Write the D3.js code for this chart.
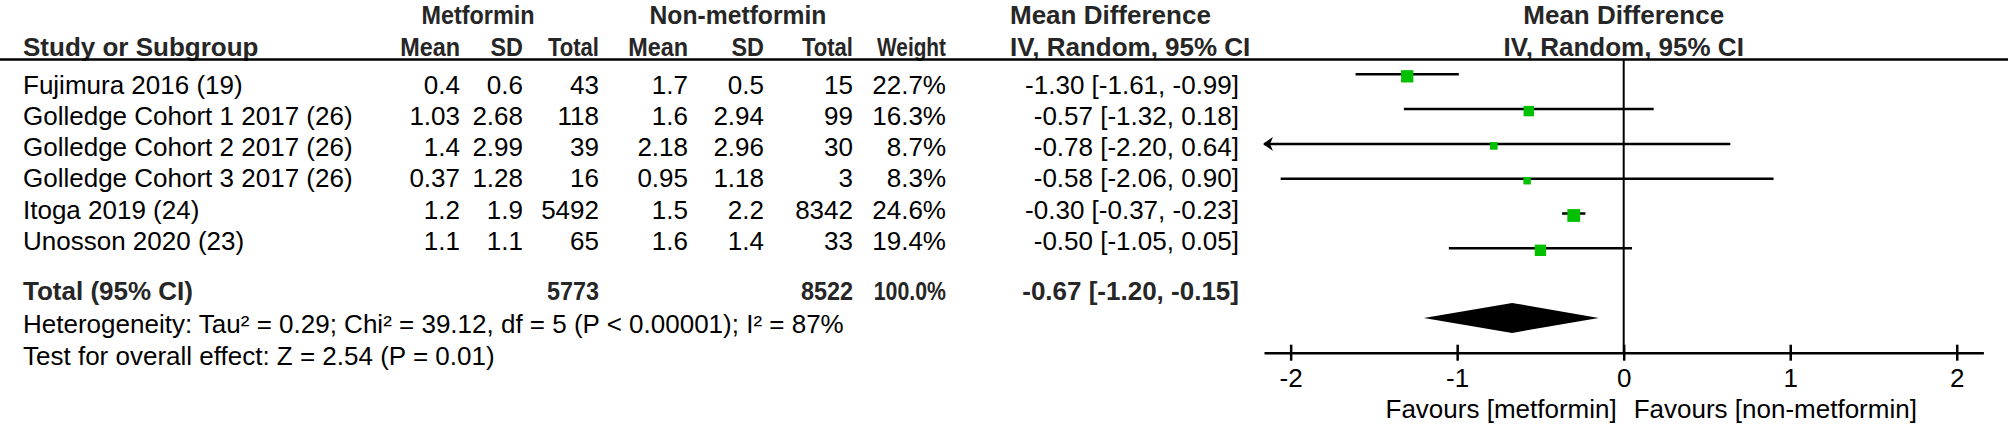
<!DOCTYPE html>
<html>
<head>
<meta charset="utf-8">
<script src="https://cdn.jsdelivr.net/npm/d3@7"></script>
<style>
  body { margin: 0; background: #fff; }
  text { font-family: "Liberation Sans", Arial, sans-serif; font-size: 26px; fill: #000; }
  .head { font-weight: bold; fill: #262626; }
  .bold { font-weight: bold; fill: #262626; }
</style>
</head>
<body>
<div id="forest"></div>
<script>
// FOREST PLOT: metformin vs non-metformin

// 1. Data
var studies = ["Fujimura 2016 (19)", "Golledge Cohort 1 2017 (26)", "Golledge Cohort 2 2017 (26)",
  "Golledge Cohort 3 2017 (26)", "Itoga 2019 (24)", "Unosson 2020 (23)"];
var metMean = ["0.4", "1.03", "1.4", "0.37", "1.2", "1.1"];
var metSD = ["0.6", "2.68", "2.99", "1.28", "1.9", "1.1"];
var metTotal = [43, 118, 39, 16, 5492, 65];
var nonMean = ["1.7", "1.6", "2.18", "0.95", "1.5", "1.6"];
var nonSD = ["0.5", "2.94", "2.96", "1.18", "2.2", "1.4"];
var nonTotal = [15, 99, 30, 3, 8342, 33];
var weights = [22.7, 16.3, 8.7, 8.3, 24.6, 19.4];
var md = [-1.30, -0.57, -0.78, -0.58, -0.30, -0.50];
var ciLow = [-1.61, -1.32, -2.20, -2.06, -0.37, -1.05];
var ciHigh = [-0.99, 0.18, 0.64, 0.90, -0.23, 0.05];

var totalMet = 5773;
var totalNon = 8522;
var totalWeight = "100.0%";
var overall = [-1.20, -0.67, -0.15]; // low, estimate, high

var xTicks = [-2, -1, 0, 1, 2];
var heterogeneity = "Heterogeneity: Tau\u00b2 = 0.29; Chi\u00b2 = 39.12, df = 5 (P < 0.00001); I\u00b2 = 87%";
var overallTest = "Test for overall effect: Z = 2.54 (P = 0.01)";

// 2. SVG
var svgWidth = 2008;
var svgHeight = 426;

var svg = d3.select("#forest").append("svg")
  .attr("width", svgWidth)
  .attr("height", svgHeight);

svg.append("rect").attr("width", svgWidth).attr("height", svgHeight).attr("fill", "#fff");

// plot rows (row index -> y) and table text rows
var yRow = d3.scaleLinear().domain([0, 1]).range([74.3, 109.1]);
var yText = d3.scaleLinear().domain([0, 1]).range([84.5, 115.7]);
var capHalf = 9.3; // half cap height, to put text centres on the row

// x scale of the plot
var x = d3.scaleLinear().domain([-2.16, 2.16]).range([1264, 1983.4]);

// box size scale
var boxSize = d3.scaleSqrt().domain([0, 24.6]).range([0, 12.8]);

function fmt(v) { return v.toFixed(2); }
function ciText(m, lo, hi) { return fmt(m) + " [" + fmt(lo) + ", " + fmt(hi) + "]"; }

// column right edges
var cols = { mean1: 460, sd1: 523, tot1: 599, mean2: 688, sd2: 764, tot2: 853, weight: 946, ci: 1239 };
var studyX = 23;

// 3. Headers (the bold column labels are a little narrower in the original)
var titleY = 24;
var headY = 56;
var heads = [
  ["Metformin", 478, titleY, "middle", 0.9],
  ["Non-metformin", 738, titleY, "middle", 0.95],
  ["Mean Difference", 1010, titleY, "start", 1],
  ["Mean Difference", x(0), titleY, "middle", 1],
  ["Study or Subgroup", studyX, headY, "start", 1],
  ["Mean", cols.mean1, headY, "end", 0.9], ["SD", cols.sd1, headY, "end", 0.9],
  ["Total", cols.tot1, headY, "end", 0.85],
  ["Mean", cols.mean2, headY, "end", 0.9], ["SD", cols.sd2, headY, "end", 0.9],
  ["Total", cols.tot2, headY, "end", 0.85],
  ["Weight", cols.weight, headY, "end", 0.8],
  ["IV, Random, 95% CI", 1010, headY, "start", 1],
  ["IV, Random, 95% CI", x(0), headY, "middle", 1]
];
svg.selectAll(".headText")
  .data(heads)
  .enter()
  .append("text")
  .attr("class", "head")
  .attr("transform", d => `translate(${d[1]}, ${d[2]}) scale(${d[4]}, 1)`)
  .attr("text-anchor", d => d[3])
  .text(d => d[0]);

// underline across the whole table
var lineY = 59.5;
svg.append("line")
  .attr("x1", 0).attr("x2", svgWidth)
  .attr("y1", lineY).attr("y2", lineY)
  .attr("stroke", "#000").attr("stroke-width", 2.5);

// 4. Study rows (text)
var rows = studies.map(function (s, i) {
  return {
    name: s, mean1: metMean[i], sd1: metSD[i], tot1: metTotal[i],
    mean2: nonMean[i], sd2: nonSD[i], tot2: nonTotal[i],
    weight: weights[i].toFixed(1) + "%", ci: ciText(md[i], ciLow[i], ciHigh[i]),
    md: md[i], lo: ciLow[i], hi: ciHigh[i], w: weights[i], i: i
  };
});

var textRows = svg.selectAll(".row")
  .data(rows)
  .enter()
  .append("g")
  .attr("class", "row")
  .attr("transform", d => `translate(0, ${yText(d.i) + capHalf})`);

textRows.append("text").attr("x", studyX).text(d => d.name);
["mean1", "sd1", "tot1", "mean2", "sd2", "tot2", "weight", "ci"].forEach(function (key) {
  textRows.append("text")
    .attr("x", cols[key])
    .attr("text-anchor", "end")
    .text(d => d[key]);
});

// 5. Total + footer text
var totalY = 290.7 + capHalf;
var totalRow = [
  ["Total (95% CI)", studyX, "start", 1],
  [totalMet, cols.tot1, "end", 0.9],
  [totalNon, cols.tot2, "end", 0.9],
  [totalWeight, cols.weight, "end", 0.82],
  [ciText(overall[1], overall[0], overall[2]), cols.ci, "end", 1]
];
svg.selectAll(".totalText")
  .data(totalRow)
  .enter()
  .append("text")
  .attr("class", "bold")
  .attr("transform", d => `translate(${d[1]}, ${totalY}) scale(${d[3]}, 1)`)
  .attr("text-anchor", d => d[2])
  .text(d => d[0]);

svg.append("text").attr("x", studyX).attr("y", 324 + capHalf).text(heterogeneity);
svg.append("text").attr("x", studyX).attr("y", 356 + capHalf).text(overallTest);

// 6. Forest plot
var plot = svg.append("g");

// line of no effect
plot.append("line")
  .attr("x1", x(0)).attr("x2", x(0))
  .attr("y1", lineY).attr("y2", yRow(8))
  .attr("stroke", "#000").attr("stroke-width", 2);

// confidence intervals (clipped at the axis ends)
var xMin = x.domain()[0];
var xMax = x.domain()[1];
plot.selectAll(".ci")
  .data(rows)
  .enter()
  .append("line")
  .attr("class", "ci")
  .attr("x1", d => x(Math.max(d.lo, xMin)))
  .attr("x2", d => x(Math.min(d.hi, xMax)))
  .attr("y1", d => yRow(d.i))
  .attr("y2", d => yRow(d.i))
  .attr("stroke", "#000")
  .attr("stroke-width", 2.5);

// arrow heads where the interval runs off the left end
plot.selectAll(".arrow")
  .data(rows.filter(d => d.lo < xMin))
  .enter()
  .append("path")
  .attr("class", "arrow")
  .attr("d", function (d) {
    var tx = x(xMin) - 1, ty = yRow(d.i);
    return `M${tx},${ty} L${tx + 10},${ty - 7} L${tx + 7},${ty} L${tx + 10},${ty + 7} Z`;
  })
  .attr("fill", "#000");

// weighted boxes
plot.selectAll(".box")
  .data(rows)
  .enter()
  .append("rect")
  .attr("class", "box")
  .attr("x", d => x(d.md) - boxSize(d.w) / 2)
  .attr("y", d => yRow(d.i) + 2 - boxSize(d.w) / 2)
  .attr("width", d => boxSize(d.w))
  .attr("height", d => boxSize(d.w))
  .attr("fill", "#00c000");

// overall diamond
var dY = yRow(7);
plot.append("path")
  .attr("d", `M${x(overall[0])},${dY} L${x(overall[1])},${dY - 15} L${x(overall[2])},${dY} L${x(overall[1])},${dY + 15} Z`)
  .attr("fill", "#000");

// axis
var bottomAxis = d3.axisBottom(x)
  .tickValues(xTicks)
  .tickSizeOuter(0)
  .tickSizeInner(8)
  .tickFormat(d => String(d));

var xAxis = plot.append("g")
  .attr("transform", `translate(0, ${yRow(8)})`)
  .call(bottomAxis);

xAxis.select(".domain").attr("stroke", "#000").attr("stroke-width", 2.5);
xAxis.selectAll(".tick line").attr("y1", -8).attr("y2", 8).attr("stroke", "#000").attr("stroke-width", 2.5);
xAxis.selectAll(".tick text")
  .attr("y", 34.5)
  .attr("dy", null)
  .style("font-size", "26px")
  .style("font-family", "'Liberation Sans', Arial, sans-serif")
  .attr("fill", "#000");

// favours labels
plot.append("text").attr("x", x(0) - 7).attr("y", 418)
  .attr("text-anchor", "end").text("Favours [metformin]");
plot.append("text").attr("x", x(0) + 10).attr("y", 418)
  .attr("text-anchor", "start").text("Favours [non-metformin]");
</script>
</body>
</html>
